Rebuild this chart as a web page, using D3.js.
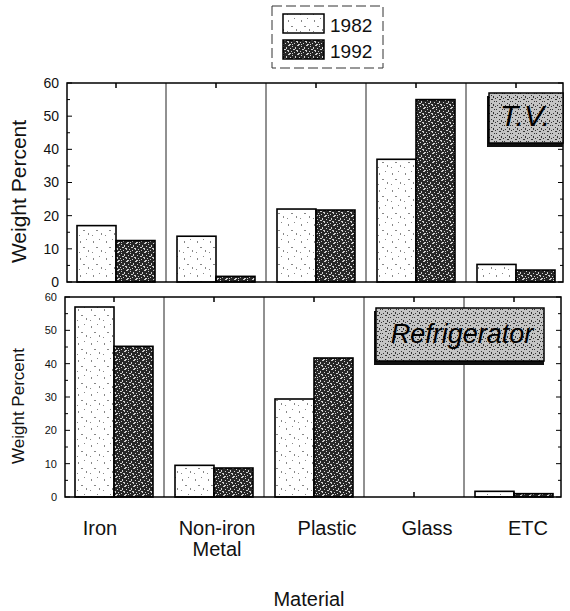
<!DOCTYPE html>
<html>
<head>
<meta charset="utf-8">
<script src="https://cdn.jsdelivr.net/npm/d3@7"></script>
<style>
  body { margin: 0; background: #fff; }
  svg text { font-family: "Liberation Sans", Arial, Helvetica, sans-serif; fill: #111; }
</style>
</head>
<body>
<div id="chart"></div>
<script>
// Data
const categories = ["Iron", "Non-iron Metal", "Plastic", "Glass", "ETC"];
const years = ["1982", "1992"];
const tv1982 = [17, 13.8, 22, 37, 5.3];
const tv1992 = [12.5, 1.7, 21.7, 55, 3.6];
const fridge1982 = [57, 9.5, 29.4, 0, 1.7];
const fridge1992 = [45.2, 8.7, 41.7, 0, 1.0];
const yTicks = [0, 10, 20, 30, 40, 50, 60];
const panelNames = ["T.V.", "Refrigerator"];

// hand-placed label nudges in the original figure (px)
const labelNudge = [-16, 1, 11, 11, 12];

const width = 570, height = 611;

const svg = d3.select("#chart")
  .append("svg")
  .attr("width", width)
  .attr("height", height);

// fills: light speckle for 1982, dark noisy for 1992, stipple for label boxes
const defs = svg.append("defs");

function speckle(id, w, h, bg, fg, spots) {
  const p = defs.append("pattern")
    .attr("id", id)
    .attr("patternUnits", "userSpaceOnUse")
    .attr("width", w).attr("height", h);
  p.append("rect").attr("width", w).attr("height", h).attr("fill", bg);
  spots.forEach(s => {
    p.append("rect")
      .attr("x", s[0]).attr("y", s[1]).attr("width", s[2]).attr("height", s[3])
      .attr("fill", fg);
  });
}

speckle("p1982", 13, 17, "#fff", "#888",
  [[2, 3, 1, 2], [8, 1, 1, 1], [5, 9, 2, 1], [10, 12, 1, 2], [1, 14, 1, 1]]);
speckle("p1992", 9, 9, "#262626", "#d0d0d0",
  [[0, 0, 2, 1], [4, 1, 1, 1], [7, 2, 1, 2], [2, 3, 1, 1], [5, 4, 2, 1], [0, 5, 1, 2],
   [3, 6, 1, 1], [6, 7, 1, 1], [1, 8, 2, 1], [8, 5, 1, 1], [4, 8, 1, 1]]);
speckle("pbox", 8, 8, "#c4c4c4", "#333",
  [[1, 1, 1, 1], [5, 0, 1, 2], [3, 3, 2, 1], [0, 5, 1, 1], [6, 5, 1, 1], [3, 7, 1, 1], [7, 2, 1, 1]]);

const fills = { "1982": "url(#p1982)", "1992": "url(#p1992)" };

// shared x scales
const x = d3.scaleBand().domain(categories).range([66, 566]);
const x1 = d3.scaleBand().domain(years).range([11, x.bandwidth() - 11]);
const frameLeft = 67, frameRight = 563;

const panels = [
  { name: panelNames[0], top: 83, bottom: 282, dx: 0, series: { "1982": tv1982, "1992": tv1992 },
    tickSize: 14, titleSize: 21, box: { x: 489, y: 93, w: 74, h: 51, tx: 525, ty: 126, fs: 30 } },
  { name: panelNames[1], top: 297, bottom: 497, dx: -2, series: { "1982": fridge1982, "1992": fridge1992 },
    tickSize: 11, titleSize: 17, box: { x: 378, y: 308, w: 168, h: 54, tx: 464, ty: 343, fs: 27 } }
];

panels.forEach(p => {
  const y = d3.scaleLinear().domain([0, 60]).range([p.bottom, p.top]);
  const g = svg.append("g").attr("transform", `translate(${p.dx},0)`);

  // category separators
  categories.slice(1).forEach(c => {
    g.append("line")
      .attr("x1", x(c)).attr("x2", x(c))
      .attr("y1", p.top).attr("y2", p.bottom)
      .attr("stroke", "#222").attr("stroke-width", 1);
  });

  // bars
  years.forEach(yr => {
    g.selectAll(".bar" + yr)
      .data(categories.map((c, i) => ({ c, v: p.series[yr][i] })).filter(d => d.v > 0))
      .join("rect")
      .attr("x", d => x(d.c) + x1(yr))
      .attr("y", d => y(d.v))
      .attr("width", x1.bandwidth())
      .attr("height", d => y(0) - y(d.v))
      .attr("fill", fills[yr])
      .attr("stroke", "#000")
      .attr("stroke-width", 1.6);
  });

  // frame
  g.append("rect")
    .attr("x", frameLeft).attr("y", p.top)
    .attr("width", frameRight - frameLeft).attr("height", p.bottom - p.top)
    .attr("fill", "none").attr("stroke", "#000").attr("stroke-width", 1.5);

  // y axis: labels outside, inward ticks with minor ticks at 5s on both sides
  const minor = d3.range(5, 60, 10);
  const yAxisL = d3.axisLeft(y).tickValues(yTicks).tickSize(0).tickPadding(8);
  const ax = g.append("g").attr("transform", `translate(${frameLeft},0)`).call(yAxisL);
  ax.select(".domain").remove();
  ax.selectAll("text").style("font-size", p.tickSize + "px").attr("fill", "#111");
  [frameLeft, frameRight].forEach((fx, k) => {
    const dir = k === 0 ? 1 : -1;
    yTicks.forEach(t => {
      g.append("line").attr("x1", fx).attr("x2", fx + dir * 5)
        .attr("y1", y(t)).attr("y2", y(t)).attr("stroke", "#000");
    });
    minor.forEach(t => {
      g.append("line").attr("x1", fx).attr("x2", fx + dir * 3)
        .attr("y1", y(t)).attr("y2", y(t)).attr("stroke", "#000");
    });
  });

  // category ticks on top and bottom edges, inward
  categories.forEach(c => {
    const cx = x(c) + x.bandwidth() / 2;
    g.append("line").attr("x1", cx).attr("x2", cx)
      .attr("y1", p.top).attr("y2", p.top + 5).attr("stroke", "#000").attr("stroke-width", 1.5);
    g.append("line").attr("x1", cx).attr("x2", cx)
      .attr("y1", p.bottom).attr("y2", p.bottom - 5).attr("stroke", "#000").attr("stroke-width", 1.5);
  });

  // y title
  g.append("text")
    .attr("transform", `translate(26,${(p.top + p.bottom) / 2 + 9}) rotate(-90)`)
    .attr("text-anchor", "middle")
    .style("font-size", p.titleSize + "px")
    .text("Weight Percent");

  // panel name box with dark shadow
  const b = p.box;
  g.append("rect")
    .attr("x", b.x - 2).attr("y", b.y + 3).attr("width", b.w + 2).attr("height", b.h)
    .attr("fill", "#111");
  g.append("rect")
    .attr("x", b.x).attr("y", b.y).attr("width", b.w).attr("height", b.h - 1)
    .attr("fill", "url(#pbox)").attr("stroke", "#000").attr("stroke-width", 1.5);
  g.append("text")
    .attr("x", b.tx).attr("y", b.ty)
    .attr("text-anchor", "middle")
    .style("font-size", b.fs + "px")
    .style("font-style", "italic")
    .style("fill", "#000")
    .text(p.name);
});

// category labels below bottom panel
categories.forEach((c, i) => {
  const cx = x(c) + x.bandwidth() / 2 + labelNudge[i];
  const t = svg.append("text")
    .attr("x", cx)
    .attr("y", 535)
    .attr("text-anchor", "middle")
    .style("font-size", "20px");
  c.split(" ").forEach((w, j) => {
    t.append("tspan")
      .attr("x", cx)
      .attr("dy", j === 0 ? 0 : 21)
      .text(w);
  });
});

svg.append("text")
  .attr("x", 309).attr("y", 606)
  .attr("text-anchor", "middle")
  .style("font-size", "20px")
  .text("Material");

// legend
const legend = svg.append("g");
legend.append("rect")
  .attr("x", 272).attr("y", 6).attr("width", 111).attr("height", 62)
  .attr("fill", "#fff").attr("stroke", "#333").attr("stroke-dasharray", "10,4");
years.forEach((yr, i) => {
  legend.append("rect")
    .attr("x", 283).attr("y", 14 + i * 26).attr("width", 41).attr("height", 19)
    .attr("fill", fills[yr]).attr("stroke", "#000").attr("stroke-width", 1.5);
  legend.append("text")
    .attr("x", 330).attr("y", 32 + i * 26)
    .style("font-size", "19px")
    .text(yr);
});
</script>
</body>
</html>
